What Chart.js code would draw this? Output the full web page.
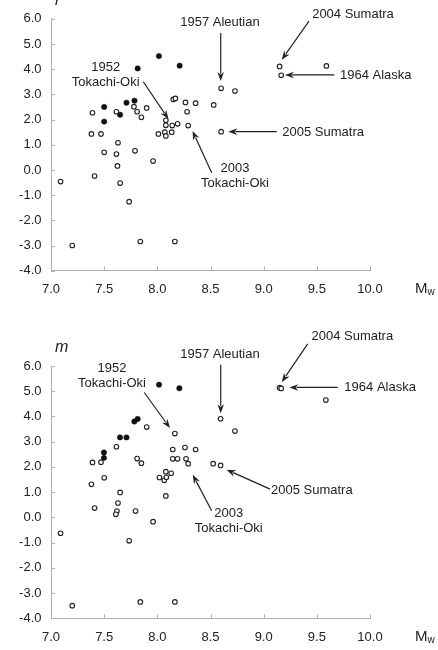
<!DOCTYPE html>
<html><head><meta charset="utf-8">
<script src="https://cdn.jsdelivr.net/npm/chart.js@4.4.1/dist/chart.umd.min.js"></script>
<style>
html,body{margin:0;padding:0;background:#fff;width:438px;height:650px;overflow:hidden}
.wrap{position:absolute;left:0;width:438px}
canvas{display:block}
</style></head><body>
<div class="wrap" style="top:0;height:320px"><canvas id="c1" width="438" height="320"></canvas></div>
<div class="wrap" style="top:320px;height:330px"><canvas id="c2" width="438" height="330"></canvas></div>
<script>
// ---- data: top panel (r) ----
const rOpenMw  = [7.39,7.615,7.78,7.81,7.85,7.90,7.38,7.47,7.63,7.50,7.615,7.79,8.15,8.17,8.265,8.36,8.28,8.53,8.08,8.08,8.14,8.19,8.01,8.07,8.08,8.135,8.29,8.60,8.73,8.60,9.15,9.165,9.59,7.09,7.41,7.625,7.65,7.735,7.96,7.20,7.84,8.165];
const rOpenVal = [2.27,2.31,2.51,2.31,2.09,2.46,1.43,1.43,1.08,0.70,0.63,0.76,2.80,2.84,2.68,2.65,2.31,2.58,1.97,1.77,1.76,1.83,1.43,1.50,1.35,1.50,1.76,3.24,3.13,1.52,4.11,3.76,4.13,-0.46,-0.24,0.16,-0.52,-1.26,0.35,-3.00,-2.84,-2.84];
const rFillMw  = [7.815,8.015,8.21,7.50,7.50,7.65,7.71,7.785];
const rFillVal = [4.03,4.52,4.14,2.50,1.92,2.19,2.67,2.75];
// ---- data: bottom panel (m) ----
const mOpenMw  = [7.39,7.47,7.615,7.81,7.85,7.90,7.50,7.38,7.65,7.63,7.41,7.62,7.61,7.795,7.96,7.09,7.735,7.20,7.84,8.165,8.165,8.145,8.26,8.36,8.145,8.19,8.27,8.29,8.525,8.08,8.13,8.02,8.065,8.085,8.08,8.595,8.73,8.595,9.15,9.165,9.585];
const mOpenVal = [2.18,2.19,2.80,2.33,2.15,3.58,1.57,1.31,0.99,0.57,0.37,0.25,0.12,0.25,-0.17,-0.63,-0.93,-3.50,-3.35,-3.35,3.32,2.69,2.77,2.69,2.32,2.32,2.32,2.13,2.13,1.81,1.75,1.58,1.47,1.59,0.85,3.91,3.42,2.06,5.14,5.11,4.65];
const mFillMw  = [8.016,8.207,7.784,7.815,7.649,7.71,7.498,7.498];
const mFillVal = [5.26,5.12,3.80,3.90,3.17,3.17,2.57,2.36];
// ---- axes ----
const mwTicks = [7.0,7.5,8.0,8.5,9.0,9.5,10.0];
const valTicks = [-4,-3,-2,-1,0,1,2,3,4,5,6];

// ---- annotations (data coordinates) ----
const rNotes = [
  {lines:['1952','Tokachi-Oki'], at:[7.514,4.06], align:'center', from:[7.868,3.50], to:[8.105,2.02]},
  {lines:['1957 Aleutian'], at:[8.589,5.86], align:'center', from:[8.596,5.44], to:[8.596,3.53]},
  {lines:['2004 Sumatra'], at:[9.840,6.16], align:'center', from:[9.426,5.91], to:[9.170,4.37]},
  {lines:['1964 Alaska'], at:[9.718,3.77], align:'left', from:[9.664,3.77], to:[9.200,3.77]},
  {lines:['2005 Sumatra'], at:[9.175,1.48], align:'left', from:[9.123,1.52], to:[8.667,1.52]},
  {lines:['2003','Tokachi-Oki'], at:[8.730,0.07], align:'center', from:[8.511,-0.11], to:[8.331,1.55]}
];
const mNotes = [
  {lines:['1952','Tokachi-Oki'], at:[7.574,5.92], align:'center', from:[7.877,4.95], to:[8.119,3.54]},
  {lines:['1957 Aleutian'], at:[8.589,6.47], align:'center', from:[8.596,6.05], to:[8.596,4.13]},
  {lines:['2004 Sumatra'], at:[9.834,7.17], align:'center', from:[9.414,6.88], to:[9.170,5.36]},
  {lines:['1964 Alaska'], at:[9.759,5.15], align:'left', from:[9.696,5.15], to:[9.241,5.15]},
  {lines:['2005 Sumatra'], at:[9.069,1.06], align:'left', from:[9.060,1.12], to:[8.652,1.89]},
  {lines:['2003','Tokachi-Oki'], at:[8.672,0.17], align:'center', from:[8.511,0.265], to:[8.333,1.69]}
];

const FONT = '"Liberation Sans", Arial, Helvetica, sans-serif';
const TXT = '#222';
const AXC = '#b0b0b0';

function pts(xs, ys){ return xs.map((x,i)=>({x:x, y:ys[i]})); }

const decorPlugin = {
  id:'decor',
  afterDraw(chart, args, opts){
    const ctx = chart.ctx, xs = chart.scales.x, ys = chart.scales.y;
    ctx.save();
    // inward tick marks
    ctx.strokeStyle = AXC; ctx.lineWidth = 1;
    const bottom = chart.chartArea.bottom, left = chart.chartArea.left;
    mwTicks.forEach(v=>{ const px = Math.round(xs.getPixelForValue(v))+0.5;
      ctx.beginPath(); ctx.moveTo(px,bottom); ctx.lineTo(px,bottom-4); ctx.stroke(); });
    valTicks.forEach(v=>{ const py = Math.round(ys.getPixelForValue(v))+0.5;
      ctx.beginPath(); ctx.moveTo(left,py); ctx.lineTo(left+4,py); ctx.stroke(); });
    // annotations
    ctx.font = '13px ' + FONT; ctx.fillStyle = TXT; ctx.textBaseline = 'middle';
    opts.notes.forEach(n=>{
      const tx = xs.getPixelForValue(n.at[0]), ty = ys.getPixelForValue(n.at[1]);
      ctx.textAlign = n.align;
      n.lines.forEach((l,i)=>ctx.fillText(l, tx, ty + i*15));
      const x1 = xs.getPixelForValue(n.from[0]), y1 = ys.getPixelForValue(n.from[1]);
      const x2 = xs.getPixelForValue(n.to[0]), y2 = ys.getPixelForValue(n.to[1]);
      const a = Math.atan2(y2-y1, x2-x1), L = 9, W = 3.3;
      ctx.strokeStyle = '#222'; ctx.lineWidth = 1.2;
      ctx.beginPath(); ctx.moveTo(x1,y1);
      ctx.lineTo(x2 - Math.cos(a)*L*0.8, y2 - Math.sin(a)*L*0.8); ctx.stroke();
      ctx.beginPath(); ctx.moveTo(x2,y2);
      ctx.lineTo(x2 - Math.cos(a)*L - Math.sin(a)*W, y2 - Math.sin(a)*L + Math.cos(a)*W);
      ctx.lineTo(x2 - Math.cos(a)*L*0.7, y2 - Math.sin(a)*L*0.7);
      ctx.lineTo(x2 - Math.cos(a)*L + Math.sin(a)*W, y2 - Math.sin(a)*L - Math.cos(a)*W);
      ctx.closePath(); ctx.fillStyle = '#222'; ctx.fill(); ctx.fillStyle = TXT;
    });
    // axis titles
    ctx.textAlign = 'left'; ctx.textBaseline = 'alphabetic';
    ctx.font = 'italic 16px ' + FONT;
    ctx.fillText(opts.yTitle, opts.yTitlePos[0], opts.yTitlePos[1]);
    const mx = 415, my = bottom + 22.5;
    ctx.font = '15px ' + FONT; ctx.fillText('M', mx, my);
    const mw = ctx.measureText('M').width;
    ctx.font = '10px ' + FONT; ctx.fillText('w', mx + mw, my + 2);
    ctx.restore();
  }
};

function makeChart(id, openMw, openVal, fillMw, fillVal, notes, yTitle, yTitlePos, padTop, xAxisH){
  return new Chart(document.getElementById(id), {
    type:'scatter',
    data:{ datasets:[
      {data:pts(openMw, openVal), pointStyle:'circle', pointRadius:2.3, pointHoverRadius:2.3,
       borderWidth:1.1, borderColor:'#222', backgroundColor:'#fff', clip:false},
      {data:pts(fillMw, fillVal), pointStyle:'circle', pointRadius:2.7, pointHoverRadius:2.7,
       borderWidth:0.5, borderColor:'#111', backgroundColor:'#111', clip:false}
    ]},
    options:{
      responsive:false, animation:false, events:[],
      layout:{padding:{top:padTop, right:68, left:0, bottom:0}},
      plugins:{legend:{display:false}, tooltip:{enabled:false},
        decor:{notes:notes, yTitle:yTitle, yTitlePos:yTitlePos}},
      scales:{
        x:{type:'linear', min:7, max:10,
           afterBuildTicks(s){ s.ticks = mwTicks.map(v=>({value:v})); },
           afterFit(s){ s.height = xAxisH; },
           grid:{display:true, drawOnChartArea:false, drawTicks:false},
           border:{display:true, color:AXC, width:1},
           ticks:{padding:11, color:TXT, font:{family:FONT, size:13},
                  callback:v=>Number(v).toFixed(1), maxRotation:0, autoSkip:false}},
        y:{type:'linear', min:-4, max:6,
           afterBuildTicks(s){ s.ticks = valTicks.map(v=>({value:v})); },
           afterFit(s){ s.width = 51; },
           grid:{display:true, drawOnChartArea:false, drawTicks:false},
           border:{display:true, color:AXC, width:1},
           ticks:{padding:9.5, color:TXT, font:{family:FONT, size:13},
                  callback:v=>Number(v).toFixed(1), autoSkip:false}}
      }
    },
    plugins:[decorPlugin]
  });
}

makeChart('c1', rOpenMw, rOpenVal, rFillMw, rFillVal, rNotes, 'r', [55,5], 18.8, 49.3);
makeChart('c2', mOpenMw, mOpenVal, mFillMw, mFillVal, mNotes, 'm', [55,32], 46, 31.7);
</script>
</body></html>
